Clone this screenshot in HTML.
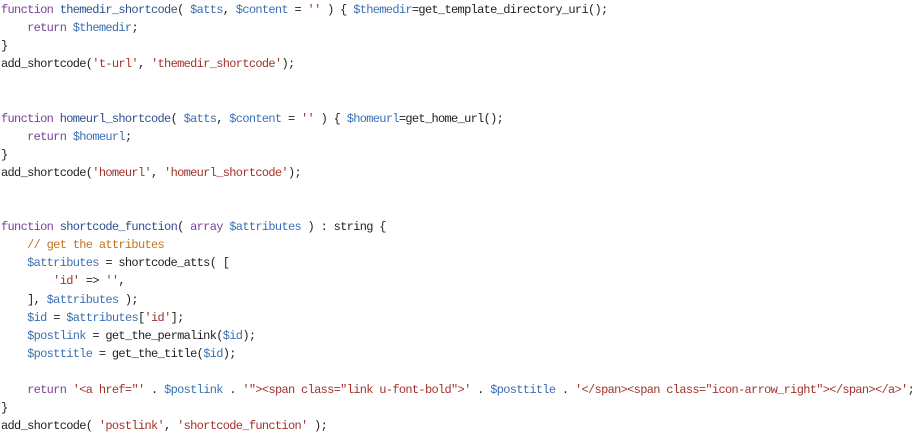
<!DOCTYPE html>
<html><head><meta charset="utf-8"><style>
html,body{margin:0;padding:0;background:#fff;width:918px;height:436px;overflow:hidden}
pre{margin:0;padding:0 0 0 1px;font-family:"Liberation Mono",monospace;font-size:12px;letter-spacing:-0.68px;line-height:18.1px;color:#222;position:relative;top:1px}
.k{color:#7b3f9e}.f{color:#2e4f8c}.v{color:#3b6fb3}.s{color:#a3322b}.c{color:#c2741f}
</style></head><body>
<pre><span class="k">function</span> <span class="f">themedir_shortcode</span>( <span class="v">$atts</span>, <span class="v">$content</span> = <span class="s">''</span> ) { <span class="v">$themedir</span>=get_template_directory_uri();
    <span class="k">return</span> <span class="v">$themedir</span>;
}
add_shortcode(<span class="s">'t-url'</span>, <span class="s">'themedir_shortcode'</span>);


<span class="k">function</span> <span class="f">homeurl_shortcode</span>( <span class="v">$atts</span>, <span class="v">$content</span> = <span class="s">''</span> ) { <span class="v">$homeurl</span>=get_home_url();
    <span class="k">return</span> <span class="v">$homeurl</span>;
}
add_shortcode(<span class="s">'homeurl'</span>, <span class="s">'homeurl_shortcode'</span>);


<span class="k">function</span> <span class="f">shortcode_function</span>( <span class="k">array</span> <span class="v">$attributes</span> ) : string {
    <span class="c">// get the attributes</span>
    <span class="v">$attributes</span> = shortcode_atts( [
        <span class="s">'id'</span> =&gt; <span class="s">''</span>,
    ], <span class="v">$attributes</span> );
    <span class="v">$id</span> = <span class="v">$attributes</span>[<span class="s">'id'</span>];
    <span class="v">$postlink</span> = get_the_permalink(<span class="v">$id</span>);
    <span class="v">$posttitle</span> = get_the_title(<span class="v">$id</span>);

    <span class="k">return</span> <span class="s">'&lt;a href="'</span> . <span class="v">$postlink</span> . <span class="s">'"&gt;&lt;span class="link u-font-bold"&gt;'</span> . <span class="v">$posttitle</span> . <span class="s">'&lt;/span&gt;&lt;span class="icon-arrow_right"&gt;&lt;/span&gt;&lt;/a&gt;'</span>;
}
add_shortcode( <span class="s">'postlink'</span>, <span class="s">'shortcode_function'</span> );</pre>
</body></html>
